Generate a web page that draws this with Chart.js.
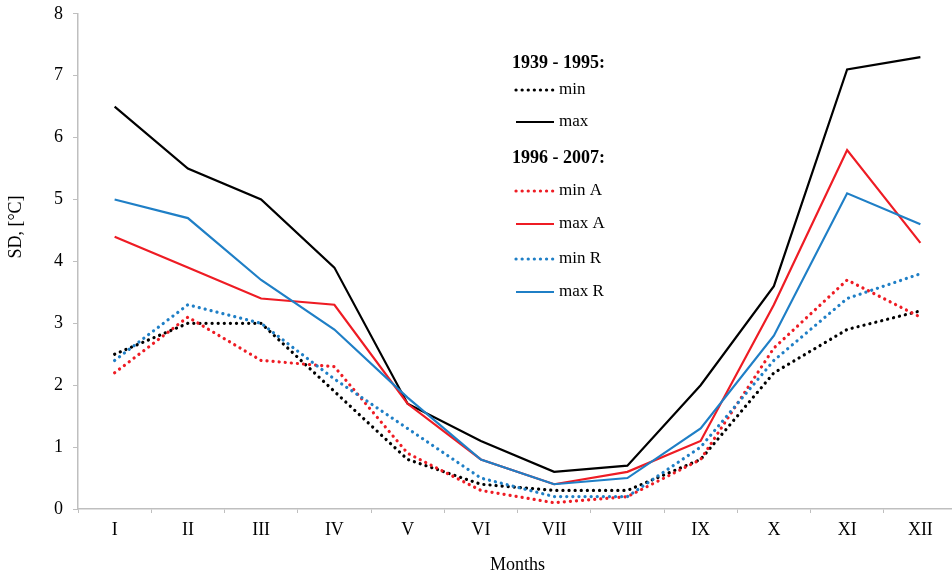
<!DOCTYPE html>
<html>
<head>
<meta charset="utf-8">
<script src="https://cdn.jsdelivr.net/npm/chart.js@4/dist/chart.umd.min.js"></script>
<style>
  html, body { margin: 0; padding: 0; background: #fff; overflow: hidden; }
  #wrap { width: 958px; height: 576px; overflow: hidden; position: relative; }
  #c { position: absolute; left: 0; top: -7px; }
</style>
</head>
<body>
<div id="wrap"><canvas id="c" width="958" height="583"></canvas></div>
<script>
const months = ['I','II','III','IV','V','VI','VII','VIII','IX','X','XI','XII'];
const yTicks = [0,1,2,3,4,5,6,7,8];

const min1939 = [2.5, 3.0, 3.0, 1.9, 0.8, 0.4, 0.3, 0.3, 0.8, 2.2, 2.9, 3.2];
const max1939 = [6.5, 5.5, 5.0, 3.9, 1.7, 1.1, 0.6, 0.7, 2.0, 3.6, 7.1, 7.3];
const minA    = [2.2, 3.1, 2.4, 2.3, 0.9, 0.3, 0.1, 0.2, 0.8, 2.6, 3.7, 3.1];
const maxA    = [4.4, 3.9, 3.4, 3.3, 1.7, 0.8, 0.4, 0.6, 1.1, 3.3, 5.8, 4.3];
const minR    = [2.4, 3.3, 3.0, 2.1, 1.3, 0.5, 0.2, 0.2, 1.0, 2.4, 3.4, 3.8];
const maxR    = [5.0, 4.7, 3.7, 2.9, 1.8, 0.8, 0.4, 0.5, 1.3, 2.8, 5.1, 4.6];

const header1 = '1939 - 1995:';
const header2 = '1996 - 2007:';
const yTitle = 'SD, [°C]';
const xTitle = 'Months';

const BLACK = '#000000', RED = '#ee1c24', BLUE = '#1f7fc6';
const FONT = "'Liberation Serif', 'Times New Roman', serif";
const SHIFT = 7; // canvas is offset upward by this many px

function ds(label, data, color, dotted, i) {
  return {
    label, data,
    borderColor: color, backgroundColor: color,
    borderWidth: dotted ? 3.2 : 2.2,
    borderDash: dotted ? [0.1, 6] : [],
    borderCapStyle: dotted ? 'round' : 'butt',
    borderJoinStyle: 'miter',
    pointRadius: 0, tension: 0, fill: false,
    order: 10 - i
  };
}

const datasets = [
  ds('min', min1939, BLACK, true, 0),
  ds('max', max1939, BLACK, false, 1),
  ds('min A', minA, RED, true, 2),
  ds('max A', maxA, RED, false, 3),
  ds('min R', minR, BLUE, true, 4),
  ds('max R', maxR, BLUE, false, 5)
];

const legendPlugin = {
  id: 'customLegend',
  afterDraw(chart) {
    const ctx = chart.ctx;
    ctx.save();
    ctx.translate(0, SHIFT);
    ctx.textBaseline = 'middle';
    ctx.fillStyle = '#000';
    ctx.font = 'bold 18px ' + FONT;
    ctx.fillText(header1, 512, 63);
    ctx.fillText(header2, 512, 158);
    const rows = [
      [0, 90], [1, 122], [2, 191], [3, 224], [4, 259], [5, 292]
    ];
    rows.forEach(([i, y]) => {
      const d = chart.data.datasets[i];
      ctx.beginPath();
      ctx.strokeStyle = d.borderColor;
      ctx.lineWidth = d.borderWidth;
      ctx.setLineDash(d.borderDash);
      ctx.lineCap = d.borderCapStyle;
      ctx.moveTo(516, y);
      ctx.lineTo(554, y);
      ctx.stroke();
      ctx.setLineDash([]);
      ctx.fillStyle = '#000';
      ctx.font = '17px ' + FONT;
      ctx.fillText(d.label, 559, y);
    });
    // y axis title
    ctx.translate(16, 227);
    ctx.rotate(-Math.PI / 2);
    ctx.textAlign = 'center';
    ctx.font = '18px ' + FONT;
    ctx.fillText(yTitle, 0, 0);
    ctx.restore();
  }
};

new Chart(document.getElementById('c'), {
  type: 'line',
  data: { labels: months, datasets },
  options: {
    responsive: false,
    animation: false,
    layout: { padding: { top: 0, right: 1, bottom: 0, left: 0 } },
    plugins: { legend: { display: false }, tooltip: { enabled: false } },
    scales: {
      x: {
        offset: true,
        grid: { offset: true, drawOnChartArea: false, drawTicks: true, tickLength: 4, color: '#bfbfbf' },
        border: { color: '#bfbfbf', width: 1.5 },
        ticks: { color: '#000', font: { family: FONT, size: 18 }, padding: 6, maxRotation: 0 },
        title: { display: true, text: xTitle, color: '#000', font: { family: FONT, size: 18 }, padding: { top: 10, bottom: 0 } },
        afterFit(s) { s.height = 67; }
      },
      y: {
        min: 0, max: 8,
        afterBuildTicks(s) { s.ticks = yTicks.map(v => ({ value: v })); },
        grid: { drawOnChartArea: false, drawTicks: true, tickLength: 5, color: '#bfbfbf' },
        border: { color: '#bfbfbf', width: 1.5 },
        ticks: { color: '#000', font: { family: FONT, size: 18 }, padding: 10 },
        title: { display: false },
        afterFit(s) { s.width = 78; }
      }
    }
  },
  plugins: [legendPlugin]
});
</script>
</body>
</html>
